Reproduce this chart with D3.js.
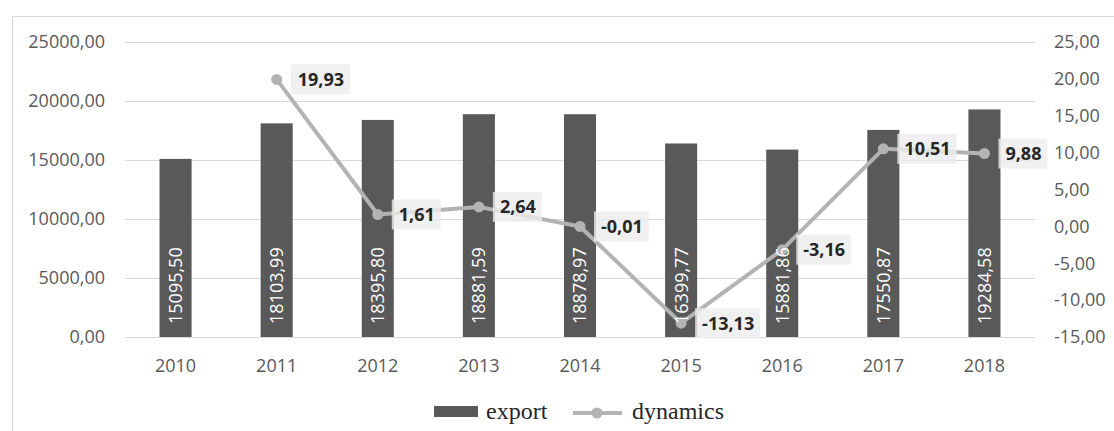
<!DOCTYPE html>
<html>
<head>
<meta charset="utf-8">
<script src="https://cdn.jsdelivr.net/npm/d3@7"></script>
<style>
  html, body { margin: 0; padding: 0; background: #fff; }
  svg { display: block; }
</style>
</head>
<body>
<svg id="chart" width="1114" height="431"></svg>
<script>
// Export volume by year and its year-on-year dynamics (%)
const years = ["2010", "2011", "2012", "2013", "2014", "2015", "2016", "2017", "2018"];
const exportValues = [15095.50, 18103.99, 18395.80, 18881.59, 18878.97, 16399.77, 15881.86, 17550.87, 19284.58];
const dynamicsValues = [null, 19.93, 1.61, 2.64, -0.01, -13.13, -3.16, 10.51, 9.88];
const leftTicks = [0, 5000, 10000, 15000, 20000, 25000];
const rightTicks = [-15, -10, -5, 0, 5, 10, 15, 20, 25];
const seriesNames = ["export", "dynamics"];

const locale = d3.formatLocale({ decimal: ",", thousands: "", grouping: [3], currency: ["", ""], minus: "-" });
const fmt = locale.format(".2f");

const svg = d3.select("#chart");
const font = "'Open Sans', 'Noto Sans', sans-serif";
const tickColor = "#595959";
const barColor = "#595959";
const lineColor = "#b3b3b3";

// chart frame
svg.append("rect")
  .attr("x", 12.5).attr("y", 16.5)
  .attr("width", 1130).attr("height", 440)
  .attr("fill", "none").attr("stroke", "#d9d9d9").attr("stroke-width", 1);

const plot = { left: 125, right: 1035, top: 42, bottom: 337 };

const x = d3.scaleBand()
  .domain(years)
  .range([plot.left, plot.right])
  .paddingInner(0.683)
  .paddingOuter(0.3415);

const yL = d3.scaleLinear().domain([0, 25000]).range([plot.bottom, plot.top]);
const yR = d3.scaleLinear().domain([-15, 25]).range([plot.bottom, plot.top]);
const cx = d => x(d) + x.bandwidth() / 2;

// gridlines
svg.append("g")
  .selectAll("line")
  .data(leftTicks)
  .join("line")
  .attr("x1", plot.left).attr("x2", plot.right)
  .attr("y1", d => Math.round(yL(d)) + 0.5)
  .attr("y2", d => Math.round(yL(d)) + 0.5)
  .attr("stroke", "#d9d9d9").attr("stroke-width", 1);

// left axis
const axL = svg.append("g")
  .attr("transform", `translate(${plot.left - 20},0)`)
  .call(d3.axisLeft(yL).tickValues(leftTicks).tickFormat(fmt).tickSize(0).tickPadding(0));
axL.select(".domain").remove();
axL.selectAll("text")
  .attr("font-family", font).attr("font-size", 18).attr("fill", tickColor);

// right axis
const axR = svg.append("g")
  .attr("transform", `translate(${plot.right + 19},0)`)
  .call(d3.axisRight(yR).tickValues(rightTicks).tickFormat(fmt).tickSize(0).tickPadding(0));
axR.select(".domain").remove();
axR.selectAll("text")
  .attr("font-family", font).attr("font-size", 18).attr("fill", tickColor);

// bottom axis labels
const axB = svg.append("g")
  .attr("transform", `translate(0,${plot.bottom + 22})`)
  .call(d3.axisBottom(x).tickSize(0).tickPadding(0));
axB.select(".domain").remove();
axB.selectAll("text")
  .attr("font-family", font).attr("font-size", 18).attr("fill", tickColor)
  .attr("dy", "0.32em").attr("y", 7);

// bars
svg.append("g")
  .selectAll("rect")
  .data(years.map((y, i) => ({ year: y, v: exportValues[i] })))
  .join("rect")
  .attr("x", d => x(d.year))
  .attr("width", x.bandwidth())
  .attr("y", d => yL(d.v))
  .attr("height", d => yL(0) - yL(d.v))
  .attr("fill", barColor);

// dynamics line
const linePts = years.map((y, i) => ({ year: y, v: dynamicsValues[i] })).filter(d => d.v !== null);
const line = d3.line().x(d => cx(d.year)).y(d => yR(d.v));
svg.append("path")
  .datum(linePts)
  .attr("d", line)
  .attr("fill", "none")
  .attr("stroke", lineColor)
  .attr("stroke-width", 4)
  .attr("stroke-linejoin", "round");

svg.append("g")
  .selectAll("circle")
  .data(linePts)
  .join("circle")
  .attr("cx", d => cx(d.year))
  .attr("cy", d => yR(d.v))
  .attr("r", 5.5)
  .attr("fill", lineColor);

// bar value labels (rotated, inside base)
svg.append("g")
  .selectAll("text")
  .data(years.map((y, i) => ({ year: y, v: exportValues[i] })))
  .join("text")
  .attr("transform", d => `translate(${cx(d.year)},${yL(0) - 13}) rotate(-90)`)
  .attr("text-anchor", "start")
  .attr("dy", "0.36em")
  .attr("font-family", font).attr("font-size", 18)
  .attr("fill", "#ffffff")
  .text(d => fmt(d.v));

// dynamics value labels with light boxes
const lbl = svg.append("g")
  .selectAll("g")
  .data(linePts)
  .join("g")
  .attr("transform", d => `translate(${cx(d.year) + 14},${yR(d.v)})`);

lbl.append("text")
  .attr("x", 7)
  .attr("dy", "0.36em")
  .attr("font-family", font).attr("font-size", 18).attr("font-weight", "bold")
  .attr("fill", "#262626")
  .text(d => fmt(d.v));

lbl.each(function () {
  const g = d3.select(this);
  const w = g.select("text").node().getComputedTextLength();
  g.insert("rect", "text")
    .attr("x", 0).attr("y", -15)
    .attr("width", w + 13).attr("height", 30)
    .attr("fill", "#ececec").attr("fill-opacity", 0.8);
});

// legend
const legend = svg.append("g");
legend.append("rect")
  .attr("x", 434).attr("y", 406).attr("width", 44).attr("height", 11)
  .attr("fill", barColor);
legend.append("text")
  .attr("x", 486).attr("y", 419)
  .attr("font-family", "'Liberation Serif', 'Times New Roman', serif").attr("font-size", 24)
  .attr("fill", "#262626")
  .text(seriesNames[0]);
legend.append("line")
  .attr("x1", 573).attr("x2", 622).attr("y1", 413).attr("y2", 413)
  .attr("stroke", lineColor).attr("stroke-width", 4);
legend.append("circle")
  .attr("cx", 597).attr("cy", 413).attr("r", 5.5).attr("fill", lineColor);
legend.append("text")
  .attr("x", 632).attr("y", 419)
  .attr("font-family", "'Liberation Serif', 'Times New Roman', serif").attr("font-size", 24)
  .attr("fill", "#262626")
  .text(seriesNames[1]);
</script>
</body>
</html>
